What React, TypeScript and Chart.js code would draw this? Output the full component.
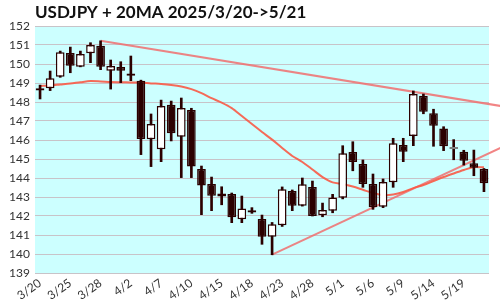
import React, { useEffect, useRef } from "react";
import { Chart, registerables } from "chart.js";

Chart.register(...registerables);

const TITLE = "USDJPY + 20MA 2025/3/20->5/21";

const dates = [
  "3/20", "3/21", "3/24", "3/25", "3/26", "3/27", "3/28", "3/31", "4/1", "4/2",
  "4/3", "4/4", "4/7", "4/8", "4/9", "4/10", "4/11", "4/14", "4/15", "4/16",
  "4/17", "4/18", "4/21", "4/22", "4/23", "4/24", "4/25", "4/28", "4/29", "4/30",
  "5/1", "5/2", "5/5", "5/6", "5/7", "5/8", "5/9", "5/12", "5/13", "5/14",
  "5/15", "5/16", "5/19", "5/20", "5/21",
];

const open = [
  148.6, 148.72, 149.33, 150.58, 149.86, 150.56, 150.96, 149.65, 149.84, 149.5,
  149.12, 146.04, 145.51, 147.86, 146.17, 147.58, 144.47, 143.68, 143.02, 143.16,
  141.83, 142.3, 141.84, 140.91, 141.51, 143.32, 142.54, 143.53, 142.04, 142.28,
  142.96, 145.37, 144.74, 143.68, 142.49, 143.77, 145.74, 146.21, 148.33, 147.41,
  146.6, 145.53, 145.38, 144.77, 144.47,
];
const high = [
  148.89, 149.63, 150.68, 150.89, 150.68, 151.12, 151.22, 150.21, 150.12, 150.42,
  149.15, 147.37, 148.1, 148.05, 148.21, 147.67, 144.63, 144.05, 143.54, 143.21,
  143.05, 142.44, 142.05, 141.66, 143.53, 143.37, 144.0, 143.84, 142.68, 143.14,
  145.7, 145.91, 144.95, 144.21, 143.95, 146.09, 146.09, 148.58, 148.42, 147.62,
  146.7, 146.02, 145.46, 145.47, 144.5,
];
const low = [
  148.16, 148.6, 149.3, 149.54, 149.85, 150.07, 149.7, 148.68, 149.02, 149.12,
  145.23, 144.6, 144.86, 145.95, 144.02, 144.02, 142.07, 142.28, 142.59, 141.65,
  141.65, 142.14, 140.51, 139.96, 141.45, 142.28, 142.52, 142.0, 141.96, 142.17,
  142.9, 144.38, 143.51, 142.35, 142.44, 143.51, 144.86, 145.7, 147.38, 145.67,
  145.44, 144.96, 144.68, 144.12, 143.28,
];
const close = [
  148.72, 149.25, 150.62, 149.91, 150.53, 151.0, 149.86, 149.9, 149.65, 149.38,
  146.05, 146.84, 147.79, 146.35, 147.68, 144.6, 143.6, 143.07, 143.19, 141.93,
  142.4, 142.18, 140.91, 141.56, 143.41, 142.54, 143.67, 142.0, 142.32, 142.98,
  145.3, 144.84, 143.68, 142.46, 143.79, 145.83, 145.38, 148.42, 147.49, 146.75,
  145.67, 145.53, 144.91, 144.54, 143.72,
];
const ma20 = [
  148.84, 148.87, 148.92, 148.97, 149.04, 149.1, 149.08, 149.05, 149.04, 149.03,
  149.02, 148.98, 148.95, 148.9, 148.82, 148.68, 148.47, 148.2, 147.97, 147.68,
  147.26, 146.84, 146.42, 146.02, 145.58, 145.16, 144.84, 144.45, 144.05, 143.77,
  143.68, 143.55, 143.38, 143.21, 143.1, 143.13, 143.26, 143.47, 143.63, 143.84,
  144.05, 144.24, 144.42, 144.58, 144.56,
];

// trend lines (index positions on the date axis, price values)
const resistX = [6, 46];
const resistY = [151.22, 147.76];
const supportX = [23, 46];
const supportY = [139.97, 145.67];

const xTickIdx = [0, 3, 6, 9, 12, 15, 18, 21, 24, 27, 30, 33, 36, 39, 42];
const yMin = 139;
const yMax = 152;

export default function App() {
  const ref = useRef<HTMLCanvasElement>(null);

  useEffect(() => {
    if (!ref.current) return;
    const DARK = "#2b0000";
    const idx = dates.map((_, i) => i);
    const bodyFill = idx.map((i) =>
      close[i] > open[i] ? "#ffffff" : close[i] < open[i] ? DARK : "#b4b4b4"
    );
    const bodyBorder = idx.map((i) => (close[i] === open[i] ? "#808080" : DARK));

    const bgPlugin = {
      id: "plotBg",
      beforeDraw(chart: any) {
        const { ctx, chartArea } = chart;
        ctx.save();
        ctx.fillStyle = "#ccffff";
        ctx.fillRect(chartArea.left, chartArea.top, chartArea.right - chartArea.left, chartArea.bottom - chartArea.top);
        ctx.restore();
      },
    };
    const titlePlugin = {
      id: "leftTitle",
      afterDraw(chart: any) {
        const { ctx, chartArea } = chart;
        ctx.save();
        ctx.font = "bold 17px Lato";
        ctx.fillStyle = "#111111";
        ctx.textBaseline = "alphabetic";
        ctx.textAlign = "left";
        ctx.fillText(TITLE, chartArea.left, 18);
        ctx.restore();
      },
    };

    const chart = new Chart(ref.current, {
      type: "bar",
      data: {
        datasets: [
          {
            type: "bar",
            label: "body",
            data: idx.map((i) => ({ x: i, y: [open[i], close[i]] })) as any,
            backgroundColor: bodyFill,
            borderColor: bodyBorder,
            borderWidth: 1.5,
            borderSkipped: false,
            grouped: false,
            barPercentage: 0.86,
            categoryPercentage: 1,
            minBarLength: 2,
            order: 0,
          } as any,
          {
            type: "bar",
            label: "wick",
            data: idx.map((i) => ({ x: i, y: [low[i], high[i]] })) as any,
            backgroundColor: DARK,
            borderWidth: 0,
            grouped: false,
            barThickness: 2,
            order: 1,
          } as any,
          {
            type: "line",
            label: "20MA",
            data: idx.map((i) => ({ x: i, y: ma20[i] })),
            borderColor: "rgba(250,90,70,0.9)",
            borderWidth: 2,
            pointRadius: 0,
            tension: 0.3,
            order: 2,
          } as any,
          {
            type: "line",
            label: "resistance",
            data: resistX.map((x, k) => ({ x, y: resistY[k] })),
            borderColor: "rgba(240,110,110,0.85)",
            borderWidth: 2,
            pointRadius: 0,
            clip: false,
            order: 3,
          } as any,
          {
            type: "line",
            label: "support",
            data: supportX.map((x, k) => ({ x, y: supportY[k] })),
            borderColor: "rgba(240,110,110,0.85)",
            borderWidth: 2,
            pointRadius: 0,
            clip: false,
            order: 4,
          } as any,
        ],
      },
      options: {
        animation: false,
        responsive: true,
        maintainAspectRatio: false,
        layout: { padding: { top: 26, right: 11, left: 0, bottom: 0 } },
        plugins: {
          legend: { display: false },
          tooltip: { enabled: false },
          title: { display: false },
        },
        scales: {
          x: {
            type: "linear",
            min: -0.5,
            max: 44.5,
            offset: false,
            grid: { display: false, drawTicks: false },
            border: { display: false },
            afterBuildTicks: (axis: any) => {
              axis.ticks = xTickIdx.map((v) => ({ value: v }));
            },
            afterFit: (axis: any) => {
              axis.height = 27;
            },
            ticks: {
              autoSkip: false,
              minRotation: 35,
              maxRotation: 35,
              padding: 3,
              color: "#333333",
              font: { family: "Lato", size: 12 },
              callback: (v: any) => dates[Math.round(Number(v))] ?? "",
            },
          } as any,
          y: {
            min: yMin,
            max: yMax,
            grid: { color: "rgb(200,195,200)", drawTicks: false },
            border: { display: false },
            afterFit: (axis: any) => {
              axis.width = 35;
            },
            ticks: {
              stepSize: 1,
              padding: 5,
              color: "#333333",
              font: { family: "Lato", size: 12 },
            },
          } as any,
        },
      },
      plugins: [bgPlugin, titlePlugin],
    });
    return () => chart.destroy();
  }, []);

  return (
    <div style={{ position: "fixed", left: 0, top: 0, width: 500, height: 300, background: "#ffffff" }}>
      <canvas ref={ref} />
    </div>
  );
}
